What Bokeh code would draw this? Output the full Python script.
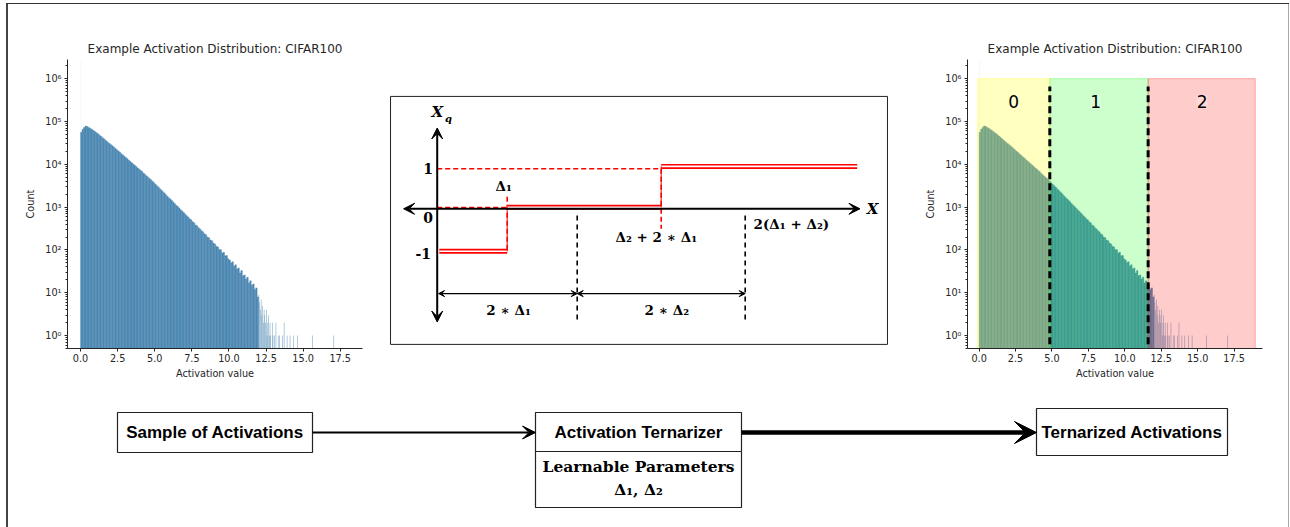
from bokeh.plotting import figure
from bokeh.layouts import column, row
from bokeh.models import (Range1d, FixedTicker, Arrow, VeeHead, Div, ColumnDataSource,
                          LabelSet, NumeralTickFormatter, CustomJSTickFormatter)
from bokeh.core.properties import value
from bokeh.embed import file_html
from bokeh.resources import INLINE

# ---------------- data ----------------
TITLE = "Example Activation Distribution: CIFAR100"
BIN_W = 0.1
# counts per 0.1-wide bin, starting at 0.0
COUNTS = [
    56000, 66000, 72000, 78000, 76500, 72500, 69500, 66000, 62000, 59000,
    55500, 52500, 49000, 46000, 43000, 40000, 37500, 35000, 32500, 30500,
    28800, 27000, 25200, 23300, 21900, 20500, 19000, 17700, 16600, 15400,
    14400, 13500, 12500, 11700, 10900, 10200, 9500, 8900, 8250, 7750,
    7200, 6750, 6200, 5750, 5350, 5000, 4650, 4350, 4000, 3700,
    3400, 3150, 2950, 2700, 2500, 2300, 2150, 1950, 1800, 1650,
    1550, 1420, 1310, 1200, 1110, 1030, 950, 870, 810, 745,
    690, 630, 590, 535, 505, 455, 430, 385, 365, 330,
    310, 280, 265, 238, 226, 200, 193, 170, 165, 145,
    138, 122, 118, 103, 101, 85, 88, 73, 74, 62,
    58, 50, 53, 42, 45, 36, 38, 29, 33, 25,
    26, 21, 23, 17, 19, 15, 16, 12, 13, 8,
]
# sparse tail (0.05-wide bins)
TAIL_W = 0.05
TAIL_X = [12.0, 12.05, 12.1, 12.15, 12.2, 12.25, 12.3, 12.35, 12.4, 12.45, 12.5, 12.55,
          12.6, 12.65, 12.7, 12.75, 12.8, 12.9, 12.95, 13.05, 13.15, 13.3, 13.4, 13.6,
          13.7, 13.9, 14.1, 14.35, 14.6, 15.6, 17.05]
TAIL_C = [9, 6, 4, 7, 3, 5, 2, 4, 3, 2, 4, 1,
          2, 3, 1, 2, 1, 2, 1, 1, 2, 1, 1, 1,
          2, 1, 1, 1, 1, 1, 1]
ZERO_X = [0.0]
ZERO_C = [3.0e6]

X_TICKS = [0.0, 2.5, 5.0, 7.5, 10.0, 12.5, 15.0, 17.5]
Y_TICKS = [1, 10, 100, 1000, 10000, 100000, 1000000]

REGION_EDGES = [-0.1, 4.85, 11.6, 18.95]
REGION_LABELS = ["0", "1", "2"]
REGION_LABEL_X = [2.36, 8.0, 15.3]
THRESHOLDS = [4.85, 11.6]

# schematic ternarizer parameters
D1 = 1.0
D2 = 1.2

BAR_COLOR = "#4e89b3"
TXT = "#262626"

ROW_H = 388
TOP_B = 55
BOT_B = 44


def make_hist(width, ml, mr, x_rng, overlay=False):
    p = figure(width=width, height=ROW_H, x_range=Range1d(*x_rng), y_range=Range1d(0.5, 2.8e6),
               y_axis_type="log", output_backend="svg", toolbar_location=None,
               min_border_left=ml, min_border_right=mr, min_border_top=TOP_B, min_border_bottom=BOT_B,
               title=TITLE, outline_line_color=None)
    p.title.text_font = "DejaVu Sans"
    p.title.text_font_size = "12px"
    p.title.text_font_style = "normal"
    p.title.text_color = TXT
    p.title.align = "center"
    p.title.standoff = 8
    p.xgrid.visible = False
    p.ygrid.visible = False

    left = [i * BIN_W for i in range(len(COUNTS))]
    right = [l + BIN_W for l in left]
    p.quad(left=ZERO_X, right=[z + TAIL_W for z in ZERO_X], bottom=0.01, top=ZERO_C,
           fill_color=BAR_COLOR, fill_alpha=0.08, line_color=None)
    p.quad(left=left, right=right, bottom=0.01, top=COUNTS,
           fill_color=BAR_COLOR, line_color=BAR_COLOR, line_width=0.4)
    p.quad(left=TAIL_X, right=[t + TAIL_W * 0.7 for t in TAIL_X], bottom=0.01, top=TAIL_C,
           fill_color=BAR_COLOR, line_color=None, fill_alpha=0.85)

    if overlay:
        src = ColumnDataSource(dict(l=REGION_EDGES[:-1], r=REGION_EDGES[1:],
                                    c=["#ffff00", "#00ff00", "#ff0000"],
                                    a=[0.25, 0.2, 0.2]))
        p.quad(left="l", right="r", bottom=0.01, top=1.0e6, source=src,
               fill_color="c", fill_alpha="a", line_color="c", line_alpha=0.3, line_width=1)
        p.segment(x0=THRESHOLDS, y0=0.01, x1=THRESHOLDS, y1=6.6e5,
                  line_color="black", line_width=3, line_dash="7 4")
        lsrc = ColumnDataSource(dict(x=REGION_LABEL_X, y=[2.9e5] * 3, t=REGION_LABELS))
        p.add_layout(LabelSet(x="x", y="y", text="t", source=lsrc, text_align="center",
                              text_baseline="middle", text_font=value("DejaVu Sans"),
                              text_font_size="17px", text_color="black",
                              background_fill_color="white", background_fill_alpha=0.25))

    for ax in (p.xaxis, p.yaxis):
        ax.axis_line_color = TXT
        ax.major_tick_line_color = TXT
        ax.minor_tick_line_color = TXT
        ax.major_tick_in = 0
        ax.minor_tick_in = 0
        ax.major_label_text_font = "DejaVu Sans"
        ax.major_label_text_font_size = "9.7px"
        ax.major_label_text_color = TXT
        ax.axis_label_text_font = "DejaVu Sans"
        ax.axis_label_text_font_size = "9.7px"
        ax.axis_label_text_font_style = "normal"
        ax.axis_label_text_color = TXT
    p.xaxis.ticker = FixedTicker(ticks=X_TICKS)
    p.xaxis.formatter = NumeralTickFormatter(format="0.0")
    p.xaxis.major_tick_out = 3
    p.xaxis.major_label_standoff = 2
    p.xaxis.axis_label = "Activation value"
    p.xaxis.axis_label_standoff = 3

    minor = [m * 10 ** e for e in range(-1, 7) for m in range(2, 10)]
    p.yaxis.ticker = FixedTicker(ticks=Y_TICKS, minor_ticks=minor)
    p.yaxis.formatter = CustomJSTickFormatter(code="""
        const sup = {"-":"\u207b","0":"\u2070","1":"\u00b9","2":"\u00b2","3":"\u00b3","4":"\u2074",
                     "5":"\u2075","6":"\u2076","7":"\u2077","8":"\u2078","9":"\u2079"};
        const e = Math.round(Math.log10(tick));
        return "10" + String(e).split("").map(c => sup[c]).join("");
    """)
    p.yaxis.major_tick_out = 3
    p.yaxis.minor_tick_out = 2
    p.yaxis.major_label_standoff = 3
    p.yaxis.axis_label = "Count"
    p.yaxis.axis_label_standoff = 6
    return p


lh = make_hist(372, 59, 18, (-0.88, 19.0))
rh = make_hist(388, 67, 26, (-0.80, 19.45), overlay=True)

# ---------------- middle diagram ----------------
mid = figure(width=520, height=ROW_H, x_range=Range1d(-0.753, 6.519), y_range=Range1d(-3.4925, 3.733),
             output_backend="svg", toolbar_location=None, x_axis_location=None, y_axis_location=None,
             min_border_left=4, min_border_right=7, min_border_top=TOP_B, min_border_bottom=BOT_B,
             outline_line_color=None)
mid.xgrid.visible = False
mid.ygrid.visible = False

T1 = D1
T2 = D2 + 2 * D1
B1 = 2 * D1
B2 = 2 * (D1 + D2)
X_END = 6.0

# enclosing box
mid.quad(left=[-0.667], right=[6.433], top=[2.81], bottom=[-3.39],
         fill_color="white", line_color="#222", line_width=1)

# axes with arrowheads
for (xs, ys, xe, ye) in [(0, 0, -0.48, 0), (0, 0, 6.04, 0), (0, 0, 0, 2.02), (0, 0, 0, -2.83)]:
    mid.add_layout(Arrow(x_start=xs, y_start=ys, x_end=xe, y_end=ye, line_width=2, line_color="black",
                         end=VeeHead(size=11, fill_color="black", line_color="black", line_width=1)))

# red dashed guides
mid.segment(x0=[0, 0, T1, T2], y0=[1.0, 0.03, 0.3, 1.0], x1=[T2, T1, T1, T2], y1=[1.0, 0.03, -1.06, -0.5],
            line_color="#ff0000", line_width=1.6, line_dash="5 3")
# red double step lines
STEP_X0 = [0.03, T1, T2]
STEP_X1 = [T1, T2, X_END]
STEP_Y = [-1.06, 0.04, 1.06]
mid.segment(x0=STEP_X0, y0=STEP_Y, x1=STEP_X1, y1=STEP_Y, line_color="#ff0000", line_width=5)
mid.segment(x0=STEP_X0, y0=STEP_Y, x1=STEP_X1, y1=STEP_Y, line_color="white", line_width=1.6)
mid.segment(x0=[T1, T2], y0=[-1.06, 0.04], x1=[T1, T2], y1=[0.04, 1.06], line_color="#ff0000", line_width=1)

# black dashed bounds
mid.segment(x0=[B1, B2], y0=[-0.17, -0.17], x1=[B1, B2], y1=[-2.83, -2.83],
            line_color="black", line_width=1.6, line_dash="5 4")
# dimension arrows
for (xs, xe) in [(0.02, B1), (B1, B2)]:
    mid.add_layout(Arrow(x_start=xs, y_start=-2.12, x_end=xe, y_end=-2.12, line_width=1.2,
                         line_color="black",
                         start=VeeHead(size=6, fill_color="black", line_color="black", line_width=1),
                         end=VeeHead(size=6, fill_color="black", line_color="black", line_width=1)))

SERIF = value("DejaVu Serif")
mid.text(x=[-0.13, -0.13, -0.2], y=[1.0, -0.22, -1.12], text=["1", "0", "-1"],
         text_font=SERIF, text_font_style="bold", text_font_size="14px",
         text_align="center", text_baseline="middle", text_color="black")
mid.text(x=[0.0, 6.22], y=[2.42, 0.0], text=["X", "X"], text_font=SERIF, text_font_style="bold italic",
         text_font_size="15px", text_align="center", text_baseline="middle", text_color="black")
mid.text(x=[0.16], y=[2.25], text=["q"], text_font=SERIF, text_font_style="bold italic",
         text_font_size="10px", text_align="center", text_baseline="middle", text_color="black")
mid.text(x=[0.95, 3.13, 5.06, 1.02, 3.28], y=[0.58, -0.71, -0.37, -2.54, -2.54],
         text=["\u0394\u2081", "\u0394\u2082 + 2 \u2217 \u0394\u2081", "2(\u0394\u2081 + \u0394\u2082)",
               "2 \u2217 \u0394\u2081", "2 \u2217 \u0394\u2082"],
         text_font=SERIF, text_font_style="bold", text_font_size="13.5px",
         text_align="center", text_baseline="middle", text_color="black")

# ---------------- bottom flow ----------------
bot = figure(width=1280, height=135, x_range=Range1d(8, 1288), y_range=Range1d(527, 392),
             output_backend="svg", toolbar_location=None, x_axis_location=None, y_axis_location=None,
             min_border=0, outline_line_color=None)
bot.xgrid.visible = False
bot.ygrid.visible = False
bot.quad(left=[117, 535, 535, 1036], right=[312, 741, 741, 1227], top=[412, 412, 451, 408],
         bottom=[452, 451, 507, 455], fill_color="white", line_color="#222", line_width=1.2)
bot.add_layout(Arrow(x_start=312, y_start=432, x_end=535, y_end=432, line_width=2, line_color="black",
                     end=VeeHead(size=13, fill_color="black", line_color="black", line_width=1)))
bot.add_layout(Arrow(x_start=741, y_start=432, x_end=1036, y_end=432, line_width=4.5, line_color="black",
                     end=VeeHead(size=22, fill_color="black", line_color="black", line_width=1)))
bot.text(x=[214.5, 638, 1131.5], y=[432, 432, 431.5],
         text=["Sample of Activations", "Activation Ternarizer", "Ternarized Activations"],
         text_font=value("Liberation Sans"), text_font_style="bold", text_font_size="17px",
         text_align="center", text_baseline="middle", text_color="black")
bot.text(x=[638, 638], y=[466, 489], text=["Learnable Parameters", "\u0394\u2081, \u0394\u2082"],
         text_font=SERIF, text_font_style="bold", text_font_size="15.5px",
         text_align="center", text_baseline="middle", text_color="black")

# ---------------- frame & layout ----------------
top_gap = Div(width=1289, height=3, margin=0)
left_gap = Div(width=6, height=524, margin=0)
top_line = Div(width=1283, height=1, margin=0, styles={"background-color": "#333"})
left_line = Div(width=2, height=523, margin=0, styles={"background-color": "#444"})
right_line = Div(width=1, height=523, margin=0, styles={"background-color": "#aaa"})

content = column(row(lh, mid, rh), bot)
layout = column(top_gap, row(left_gap, column(top_line, row(left_line, content, right_line))))

open("out.html", "w").write(file_html(layout, INLINE))
